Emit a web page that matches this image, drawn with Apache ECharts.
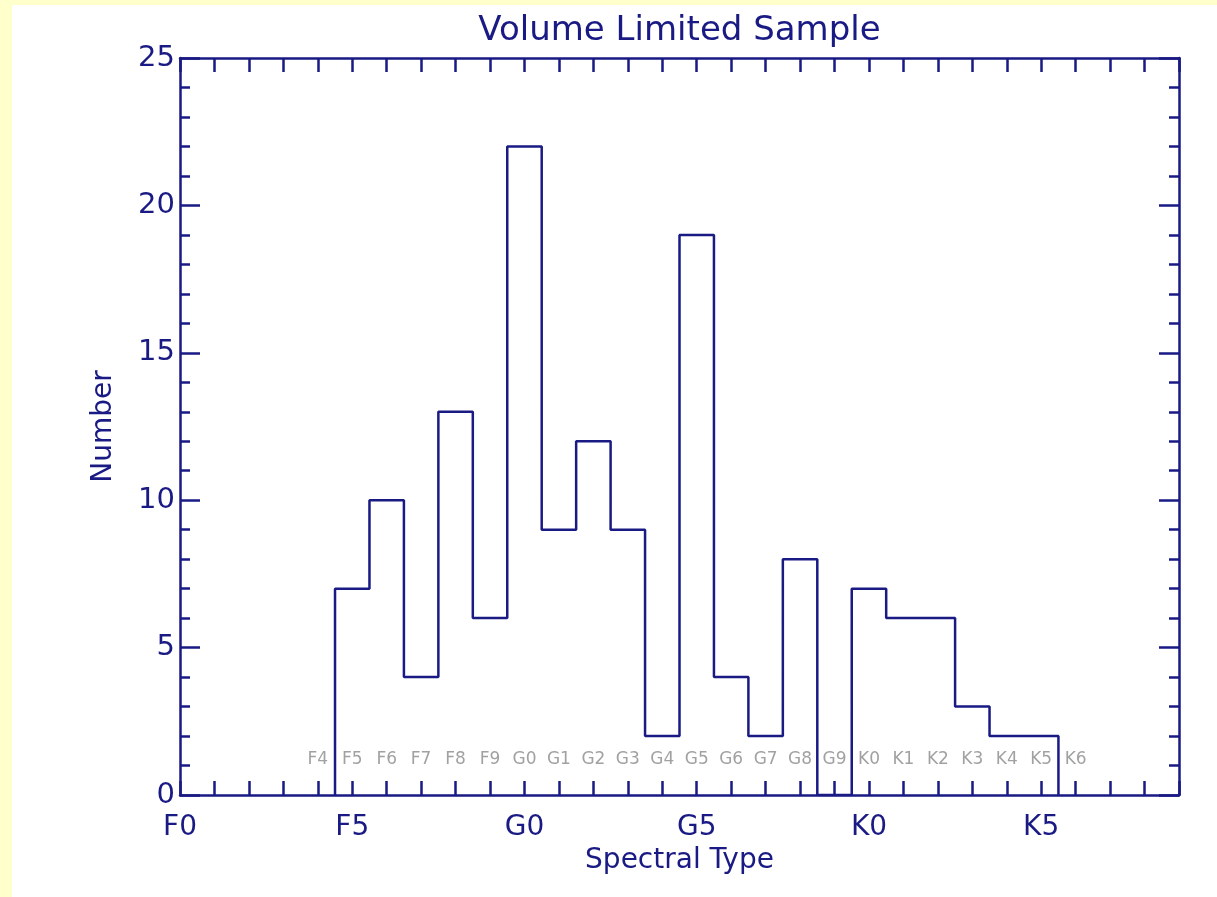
<!DOCTYPE html>
<html>
<head>
<meta charset="utf-8">
<title>Volume Limited Sample</title>
<script src="https://cdn.jsdelivr.net/npm/echarts@6/dist/echarts.min.js"></script>
<style>
  html, body { margin: 0; padding: 0; background: #fff; }
  #stripTop { position: absolute; left: 0; top: 0; width: 1217px; height: 5px; background: #ffffcc; }
  #stripLeft { position: absolute; left: 0; top: 0; width: 12px; height: 897px; background: #ffffcc; }
  #chart { position: absolute; left: 0; top: 0; width: 1217px; height: 897px; }
</style>
</head>
<body>
<div id="stripTop"></div>
<div id="stripLeft"></div>
<div id="chart"></div>
<script>
// spectral subtypes counted from F0 = 0
const binTypes = ['F5', 'F6', 'F7', 'F8', 'F9', 'G0', 'G1', 'G2', 'G3', 'G4', 'G5', 'G6', 'G7', 'G8', 'G9', 'K0', 'K1', 'K2', 'K3', 'K4', 'K5']
const binCenters = [5, 6, 7, 8, 9, 10, 11, 12, 13, 14, 15, 16, 17, 18, 19, 20, 21, 22, 23, 24, 25]
const binCounts = [7, 10, 4, 13, 6, 22, 9, 12, 9, 2, 19, 4, 2, 8, 0, 7, 6, 6, 3, 2, 2]

// small grey labels inside the plot
const subLabels = ['F4', 'F5', 'F6', 'F7', 'F8', 'F9', 'G0', 'G1', 'G2', 'G3', 'G4', 'G5', 'G6', 'G7', 'G8', 'G9', 'K0', 'K1', 'K2', 'K3', 'K4', 'K5', 'K6']
const subPositions = [4, 5, 6, 7, 8, 9, 10, 11, 12, 13, 14, 15, 16, 17, 18, 19, 20, 21, 22, 23, 24, 25, 26]
const subLabelY = 1.2

// big tick labels on x
const xTickValues = [0, 5, 10, 15, 20, 25]
const xTickLabels = ['F0', 'F5', 'G0', 'G5', 'K0', 'K5']

const navy = '#1a1a84'
const font = 'DejaVu Sans'

// histogram outline: corners of each bin
const steps = [[binCenters[0] - 0.5, 0]]
binCenters.forEach((c, i) => {
  steps.push([c - 0.5, binCounts[i]])
  steps.push([c + 0.5, binCounts[i]])
})
steps.push([binCenters[binCenters.length - 1] + 0.5, 0])

const chart = echarts.init(document.getElementById('chart'))

const xBase = {
  type: 'value', min: 0, max: 29, interval: 1,
  axisLine: { show: true, onZero: false, lineStyle: { color: navy, width: 2.5 } },
  axisTick: { show: true, inside: true, length: 14, lineStyle: { color: navy, width: 2.5 } },
  splitLine: { show: false }
}
const yBase = {
  type: 'value', min: 0, max: 25, interval: 5,
  axisLine: { show: true, onZero: false, lineStyle: { color: navy, width: 2.5 } },
  axisTick: { show: true, inside: true, length: 20, lineStyle: { color: navy, width: 2.5 } },
  minorTick: { show: true, splitNumber: 5, length: 10, lineStyle: { color: navy, width: 2.5 } },
  splitLine: { show: false }
}

chart.setOption({
  animation: false,
  grid: { left: 180, right: 38, top: 58, bottom: 102 },
  xAxis: [
    {
      ...xBase, position: 'bottom',
      name: 'Spectral Type', nameLocation: 'middle', nameGap: 52,
      nameTextStyle: { color: navy, fontFamily: font, fontSize: 28 },
      axisLabel: {
        color: navy, fontFamily: font, fontSize: 28, margin: 19,
        formatter: v => {
          const k = xTickValues.indexOf(v)
          return k >= 0 ? xTickLabels[k] : ''
        }
      }
    },
    {
      ...xBase, position: 'top',
      name: 'Volume Limited Sample', nameLocation: 'middle', nameGap: 10,
      nameTextStyle: { color: navy, fontFamily: font, fontSize: 34, verticalAlign: 'bottom' },
      axisLabel: { show: false }
    }
  ],
  yAxis: [
    {
      ...yBase, position: 'left',
      name: 'Number', nameLocation: 'middle', nameGap: 62, nameRotate: 90,
      nameTextStyle: { color: navy, fontFamily: font, fontSize: 28 },
      axisLabel: { color: navy, fontFamily: font, fontSize: 29, margin: 5 }
    },
    { ...yBase, position: 'right', axisLabel: { show: false } }
  ],
  series: [
    {
      type: 'line',
      data: steps,
      symbol: 'none',
      lineStyle: { color: navy, width: 2.5 },
      z: 3
    },
    {
      type: 'scatter',
      data: subPositions.map((p, i) => ({ value: [p, subLabelY], name: subLabels[i] })),
      symbolSize: 0,
      label: {
        show: true, position: 'inside', formatter: '{b}',
        color: '#8a8a8a', fontFamily: font, fontSize: 17
      },
      z: 4
    }
  ]
})
</script>
</body>
</html>
